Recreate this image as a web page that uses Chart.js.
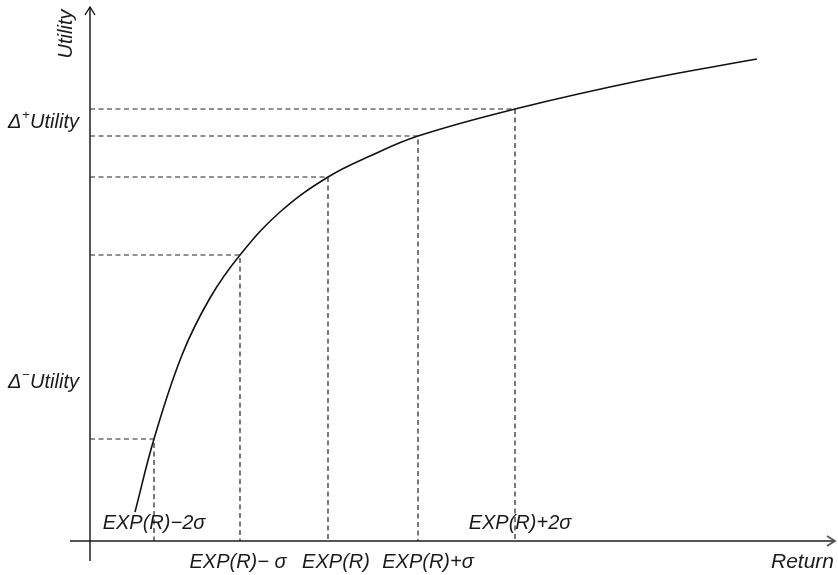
<!DOCTYPE html>
<html>
<head>
<meta charset="utf-8">
<script src="https://cdn.jsdelivr.net/npm/chart.js@4/dist/chart.umd.min.js"></script>
<style>
html,body{margin:0;padding:0;background:#fff;}
#wrap{width:838px;height:575px;}
</style>
</head>
<body>
<div id="wrap"><canvas id="c" width="838" height="575"></canvas></div>
<script>
// Utility curve samples (Return, Utility)
const curveReturn  = [4.5, 6.4, 9.2, 12.0, 15.0, 19.0, 23.8, 28.0, 32.8, 42.5, 55.3, 66.7];
const curveUtility = [2.9, 10.2, 18.6, 24.3, 28.6, 32.9, 36.4, 38.5, 40.5, 43.2, 46.1, 48.2];

// Marked points: EXP(R)-2σ ... EXP(R)+2σ
const markReturn  = [6.4, 15.0, 23.8, 32.8, 42.5];
const markUtility = [10.2, 28.6, 36.4, 40.5, 43.2];
const markLabels  = ['EXP(R)\u22122\u03C3', 'EXP(R)\u2212 \u03C3', 'EXP(R)', 'EXP(R)+\u03C3', 'EXP(R)+2\u03C3'];

// Utility-axis labels
const deltaLabels = [{sign: '+', y: 41.9}, {sign: '\u2212', y: 15.9}];

const axisXRange = [-2, 74.5];
const axisYRange = [-2, 53.4];

const curveData = curveReturn.map((x, i) => ({x, y: curveUtility[i]}));
const dashSets = markReturn.map((r, i) => ({
  data: [{x: 0, y: markUtility[i]}, {x: r, y: markUtility[i]}, {x: r, y: 0}],
  showLine: true, borderColor: '#222', borderWidth: 1.2, borderDash: [5, 3.5],
  pointRadius: 0, tension: 0, fill: false
}));

const FONT = "italic 20px 'Liberation Sans', Arial, sans-serif";
const SUP = "italic 13px 'Liberation Sans', Arial, sans-serif";

const decor = {
  id: 'decor',
  beforeDatasetsDraw(chart) {
    const {ctx, scales: {x, y}} = chart;
    const x0 = x.getPixelForValue(0), y0 = y.getPixelForValue(0);
    const xa = x.getPixelForValue(axisXRange[0]), xb = x.getPixelForValue(axisXRange[1]);
    const ya = y.getPixelForValue(axisYRange[0]), yb = y.getPixelForValue(axisYRange[1]);
    ctx.save();
    ctx.lineCap = 'butt';
    ctx.strokeStyle = '#555'; ctx.lineWidth = 1.8;
    ctx.beginPath(); ctx.moveTo(xa, y0); ctx.lineTo(xb, y0); ctx.stroke();
    ctx.beginPath(); ctx.moveTo(xb - 8, y0 - 5); ctx.lineTo(xb, y0); ctx.lineTo(xb - 8, y0 + 5); ctx.stroke();
    ctx.strokeStyle = '#111'; ctx.lineWidth = 1.4;
    ctx.beginPath(); ctx.moveTo(x0, ya); ctx.lineTo(x0, yb); ctx.stroke();
    ctx.beginPath(); ctx.moveTo(x0 - 5, yb + 8); ctx.lineTo(x0, yb); ctx.lineTo(x0 + 5, yb + 8); ctx.stroke();
    ctx.restore();
  },
  afterDraw(chart) {
    const {ctx, scales: {x, y}} = chart;
    const x0 = x.getPixelForValue(0), y0 = y.getPixelForValue(0);
    ctx.save();
    ctx.fillStyle = '#1a1a1a';
    ctx.font = FONT;
    ctx.textBaseline = 'middle';
    const rowAbove = [true, false, false, false, true];
    const dx = [0, -2, 8, 10, 5];
    markLabels.forEach((t, i) => {
      ctx.textAlign = 'center';
      const px = x.getPixelForValue(markReturn[i]) + dx[i];
      const py = rowAbove[i] ? y0 - 18 : y0 + 21;
      ctx.fillText(t, px, py);
    });
    ctx.font = "italic 21px 'Liberation Sans', Arial, sans-serif";
    ctx.textAlign = 'right';
    ctx.fillText('Return', x.getPixelForValue(axisXRange[1]) - 1, y0 + 21);
    ctx.font = FONT;
    deltaLabels.forEach(d => {
      const py = y.getPixelForValue(d.y);
      const right = x0 - 10;
      ctx.font = FONT;
      const wU = ctx.measureText('Utility').width;
      const wD = ctx.measureText('\u0394').width;
      ctx.font = SUP;
      const wS = ctx.measureText(d.sign).width;
      const left = right - wU - wS - wD - 2;
      ctx.textAlign = 'left';
      ctx.font = FONT;
      ctx.fillText('\u0394', left, py);
      ctx.font = SUP;
      ctx.fillText(d.sign, left + wD + 0.5, py - 7);
      ctx.font = FONT;
      ctx.fillText('Utility', left + wD + wS + 1, py);
    });
    ctx.translate(x0 - 24, y.getPixelForValue(axisYRange[1]) + 27);
    ctx.rotate(-Math.PI / 2);
    ctx.textAlign = 'center';
    ctx.fillText('Utility', 0, 0);
    ctx.restore();
  }
};

new Chart(document.getElementById('c'), {
  type: 'scatter',
  data: {
    datasets: [
      ...dashSets,
      {data: curveData, showLine: true, borderColor: '#111', borderWidth: 1.6,
       pointRadius: 0, tension: 0.4, fill: false}
    ]
  },
  options: {
    responsive: false,
    animation: false,
    layout: {padding: 0},
    plugins: {legend: {display: false}, tooltip: {enabled: false}},
    scales: {
      x: {type: 'linear', min: -9, max: 74.8, display: false},
      y: {type: 'linear', min: -3.4, max: 54.1, display: false}
    }
  },
  plugins: [decor]
});
</script>
</body>
</html>
